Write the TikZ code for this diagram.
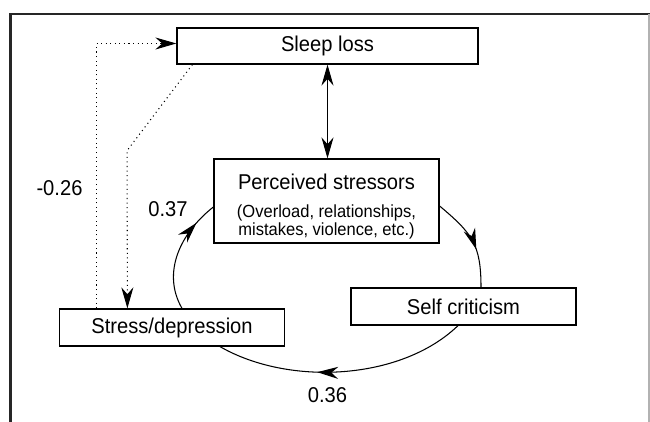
\documentclass[tikz,border=0pt]{standalone}
\usepackage{fontspec}
\setmainfont[FakeStretch=0.94]{Liberation Sans}
\usepackage{tikz}
\usetikzlibrary{arrows.meta,calc,decorations.markings}

\newcommand{\mainsz}{\fontsize{12.2}{14.8}\selectfont}
\newcommand{\subsz}{\fontsize{10}{11}\selectfont}

\begin{document}
\begin{tikzpicture}[
    >={Stealth[length=0.42cm, width=0.24cm]},
    font=\mainsz,
    bbl/.style={rectangle, draw, line width=0.7pt, minimum height=0.74cm,
                minimum width=4.5cm, inner sep=2pt, align=center},
    lbl/.style={font=\mainsz, inner sep=0pt},
    lnk/.style={line width=0.6pt},
    dlk/.style={line width=0.6pt, dotted},
    midarr/.style={postaction={decorate},
                   decoration={markings, mark=at position #1 with {\arrow{>}}}},
  ]

  \useasboundingbox (0,0) rectangle (13,8.44);

  %% ===== frame =====
  \draw[line width=1.5pt, black!85] (0.214,0) -- (0.214,8.16) -- (13,8.16);
  \draw[line width=0.6pt, gray!60] (12.98,8.16) -- (12.98,0);

  %% ===== boxes =====
  \node[bbl, minimum width=6.02cm, minimum height=0.72cm] (sleep) at (6.55, 7.52)
    {Sleep loss};
  %% the strut pushes the three lines a little down in the box
  \node[bbl, minimum height=1.48cm] (perc) at (6.53, 4.42)
    {\rule{0pt}{15.1pt}Perceived stressors\\[1.5pt]{\subsz (Overload, relationships,}\\[-4.5pt]%
     {\subsz mistakes, violence, etc.)}};
  \node[bbl] (selfc)  at (9.27, 2.31) {Self criticism};
  \node[bbl] (stress) at (3.44, 1.89) {Stress/depression};

  %% sleep loss <-> stressors
  \draw[<->, lnk] (sleep.south) -- (sleep.south |- perc.north);

  %% ===== cycle (arrow heads half way) =====
  \draw[lnk, midarr=0.6]
    ([yshift=-0.1cm]perc.east) to[out=-40, in=90, looseness=1.2]
    ([xshift=0.35cm]selfc.north);
  \draw[lnk, midarr=0.6]
    ([xshift=-0.11cm]selfc.south) to[out=-136, in=-30, looseness=0.85]
    ([xshift=0.96cm]stress.south);
  \draw[lnk, midarr=0.8]
    ([xshift=0.2cm]stress.north) to[out=120, in=-142]
    ([yshift=-0.12cm]perc.west);

  %% ===== dotted feedback =====
  \draw[->, dlk] ([xshift=0.75cm]stress.north west) |- ([yshift=0.05cm]sleep.west);
  \draw[->, dlk] ([xshift=0.32cm]sleep.south west) -- ++(-1.306,-1.72)
    -- ([xshift=1.37cm]stress.north west);

  %% ===== coefficients =====
  \node[lbl] (cfa) at (1.19, 4.68) {-0.26};
  \node[lbl] (cfb) at (3.36, 4.26) {0.37};
  \node[lbl] (cfc) at (6.55, 0.54) {0.36};

\end{tikzpicture}
\end{document}
